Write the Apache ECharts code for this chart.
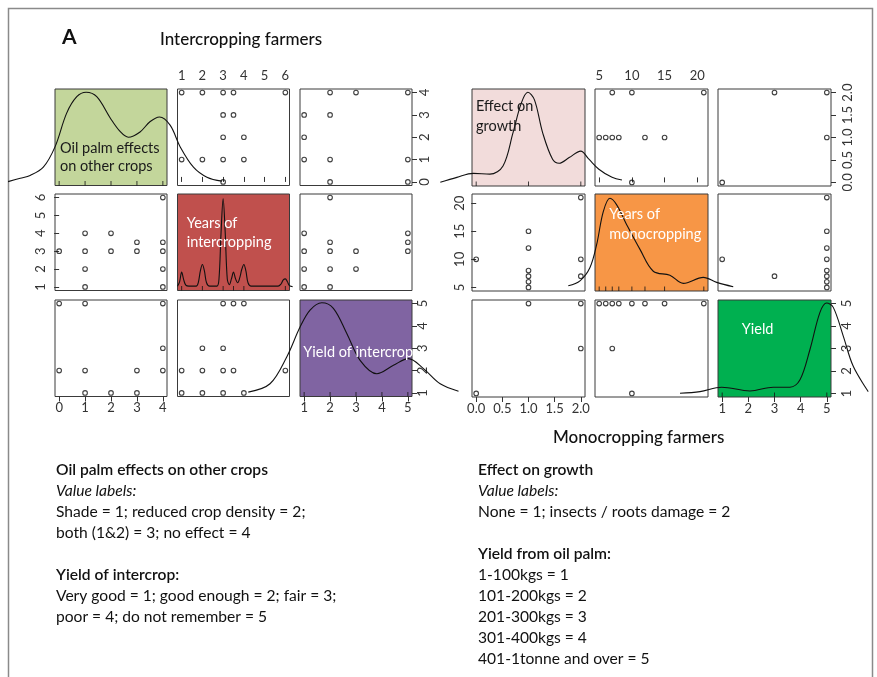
<!DOCTYPE html>
<html><head><meta charset="utf-8">
<script src="https://cdn.jsdelivr.net/npm/echarts@6/dist/echarts.min.js"></script>
<style>html,body{margin:0;padding:0;background:#fff}#c{width:877px;height:677px}</style>
</head><body><div id="c"></div>
<script>
// ================= DATA =================
// Intercropping farmers: variables and ranges
const leftNames = ['Oil palm effects\non other crops', 'Years of\nintercropping', 'Yield of intercrop'];
const effectRange = [0, 4];
const yearsInterRange = [1, 6];
const yieldInterRange = [1, 5];
const effectTicks = [0, 1, 2, 3, 4];
const yearsInterTicks = [1, 2, 3, 4, 5, 6];
const yieldInterTicks = [1, 2, 3, 4, 5];

// pairs [x, y] for upper panels (lower panels are the transposes)
const L_years_effect = [[1,4],[2,4],[3,4],[3.5,4],[6,4],[3,3],[3.5,3],[3,2],[4,2],[1,1],[2,1],[3,1],[4,1],[3,0]];
const L_yield_effect = [[2,4],[3,4],[5,4],[1,3],[2,3],[1,2],[1,1],[2,1],[5,1],[2,0],[5,0]];
const L_yield_years = [[2,6],[1,4],[5,4],[2,3.5],[5,3.5],[1,3],[2,3],[3,3],[5,3],[1,2],[2,2],[3,2],[1,1],[2,1]];

// rug values
const rugEffect = [0, 1, 2, 3, 4];
const rugYearsInter = [1, 2, 3, 3.5, 4, 6];
const rugYieldInter = [1, 2, 3, 4, 5];

// density curves: [value, relative density height]
const densEffect = [[-1.97,0.04],[-1.5,0.075],[-1.12,0.104],[-0.61,0.19],[-0.16,0.40],[0.29,0.75],[0.68,0.92],[1.04,0.966],[1.45,0.92],[1.97,0.70],[2.35,0.56],[2.67,0.50],[3.12,0.555],[3.5,0.66],[3.87,0.71],[4.28,0.625],[4.67,0.40],[5.18,0.19],[5.70,0.086],[6.28,0.045]];
const densYearsInter = [[0.8,0.045],[0.9,0.09],[1.0,0.19],[1.1,0.11],[1.2,0.055],[1.35,0.045],[1.7,0.045],[1.8,0.08],[1.9,0.2],[2.0,0.27],[2.1,0.2],[2.2,0.08],[2.35,0.045],[2.7,0.045],[2.8,0.12],[2.9,0.6],[3.0,0.95],[3.1,0.6],[3.2,0.12],[3.3,0.06],[3.4,0.12],[3.5,0.19],[3.6,0.12],[3.7,0.08],[3.8,0.13],[3.9,0.22],[4.0,0.27],[4.1,0.2],[4.2,0.08],[4.35,0.045],[5.65,0.045],[5.8,0.07],[5.9,0.11],[6.0,0.12],[6.1,0.09],[6.2,0.05],[6.35,0.04]];
const densYieldInter = [[-1.155,0.045],[-0.317,0.132],[0.328,0.41],[0.842,0.72],[1.228,0.896],[1.68,0.972],[2.127,0.914],[2.645,0.653],[3.158,0.375],[3.803,0.236],[4.444,0.323],[5.023,0.393],[5.602,0.289],[6.247,0.132],[6.954,0.055]];

// Monocropping farmers
const rightNames = ['Effect on\ngrowth', 'Years of\nmonocropping', 'Yield'];
const growthRange = [0, 2];
const yearsMonoRange = [5, 21];
const yieldRange = [1, 5];
const growthTicks = [0, 0.5, 1, 1.5, 2];
const yearsMonoTicks = [5, 10, 15, 20];
const yieldTicks = [1, 2, 3, 4, 5];

const R_years_growth = [[7,2],[10,2],[21,2],[5,1],[6,1],[7,1],[8,1],[12,1],[15,1],[10,0]];
const R_yield_growth = [[3,2],[5,2],[5,1],[1,0]];
const R_yield_years = [[1,10],[3,7],[5,21],[5,15],[5,12],[5,10],[5,8],[5,7],[5,6],[5,5]];

const rugGrowth = [0, 1, 2];
const rugYearsMono = [5, 6, 7, 8, 10, 12, 15, 21];
const rugYield = [1, 3, 5];

const densGrowth = [[-0.686,0.038],[-0.369,0.089],[-0.055,0.13],[0.261,0.122],[0.513,0.207],[0.703,0.548],[0.862,0.854],[0.987,0.966],[1.114,0.888],[1.271,0.548],[1.46,0.276],[1.587,0.235],[1.777,0.293],[1.998,0.36],[2.155,0.276],[2.345,0.173],[2.597,0.089],[2.786,0.061]];
const densYearsMono = [[0.275,0.054],[2.064,0.105],[3.593,0.242],[4.618,0.48],[5.627,0.819],[6.651,0.956],[7.676,0.888],[9.205,0.684],[11.239,0.429],[13.272,0.204],[15.81,0.163],[17.86,0.079],[20.92,0.14],[22.97,0.089],[25.5,0.044]];
const densYield = [[-0.613,0.039],[0.151,0.055],[0.981,0.101],[2.063,0.0625],[2.953,0.101],[3.592,0.101],[3.974,0.177],[4.356,0.49],[4.738,0.872],[4.995,0.969],[5.247,0.924],[5.629,0.628],[6.011,0.316],[6.585,0.055]];

// Text blocks
const leftNotes = [
  ['Oil palm effects on other crops', 'b'], ['Value labels:', 'i'],
  ['Shade = 1; reduced crop density = 2;', ''], ['both (1&2) = 3; no effect = 4', ''], ['', ''],
  ['Yield of intercrop:', 'b'], ['Very good = 1; good enough = 2; fair = 3;', ''], ['poor = 4; do not remember = 5', '']
];
const rightNotes = [
  ['Effect on growth', 'b'], ['Value labels:', 'i'], ['None = 1; insects / roots damage = 2', ''], ['', ''],
  ['Yield from oil palm:', 'b'], ['1-100kgs = 1', ''], ['101-200kgs = 2', ''], ['201-300kgs = 3', ''],
  ['301-400kgs = 4', ''], ['401-1tonne and over = 5', '']
];

// ================= BUILD =================
const FONT = 'Lato';
const W = 877;
const option = {animation:false, backgroundColor:'#fff', grid:[], xAxis:[], yAxis:[], series:[], graphic:[]};
const hidden = {axisLine:{show:false}, axisTick:{show:false}, axisLabel:{show:false}, splitLine:{show:false}};
function padded(r){ const d=(r[1]-r[0])*0.04; return [r[0]-d, r[1]+d]; }
function mkAxis(gi, range, lab) {
  const a = Object.assign({type:'value', gridIndex:gi, min:range[0], max:range[1], scale:true}, JSON.parse(JSON.stringify(hidden)));
  if (lab) {
    a.position = lab.position;
    a.axisTick = {show:true, customValues:lab.ticks, length:5, lineStyle:{color:'#333', width:1}};
    a.axisLabel = {show:true, customValues:lab.ticks, margin:lab.margin, rotate:lab.rotate||0,
      color:'#333', fontSize:13, fontFamily:FONT, formatter: lab.fmt || (v=>String(v))};
  }
  return a;
}
const transpose = d => d.map(p => [p[1], p[0]]);

function buildMatrix(M) {
  for (let i=0;i<3;i++) for (let j=0;j<3;j++) {
    const gi = option.grid.length;
    option.grid.push({left:M.cols[j], top:M.tops[i], width:M.w, height:M.h, show:true,
      backgroundColor: i===j ? M.bg[i] : 'rgba(0,0,0,0)', borderColor:'#3a3a3a', borderWidth:1});
    let xlab = null, ylab = null;
    if (i===0 && j===1) xlab = {position:'top', ticks:M.ticks[1], margin:7, fmt:M.fmt[1]};
    if (i===2 && (j===0 || j===2)) xlab = {position:'bottom', ticks:M.ticks[j], margin:5, fmt:M.fmt[j]};
    if (i===1 && j===0) ylab = {position:'left', ticks:M.ticks[1], margin:M.lm, rotate:90, fmt:M.fmt[1]};
    if ((i===0 || i===2) && j===2) ylab = {position:'right', ticks:M.ticks[i], margin:M.rm[i], rotate:90, fmt:M.fmt[i]};
    const xr = padded(M.ranges[j]);
    const xi = option.xAxis.length;
    option.xAxis.push(mkAxis(gi, xr, xlab));
    const yi = option.yAxis.length;
    if (i===j) {
      option.yAxis.push(mkAxis(gi, [0,1], null));
      if (ylab) option.yAxis.push(mkAxis(gi, padded(M.ranges[i]), ylab));
      // rug marks
      option.series.push({type:'scatter', xAxisIndex:xi, yAxisIndex:yi, data:M.rug[i].map(v=>[v,0]),
        symbol:'rect', symbolSize:[1,4.5], symbolOffset:[0,-2.2], silent:true, z:4,
        itemStyle:{color:'#111'}});
      // density curve on a wide invisible grid sharing the same x scale (not clipped to panel)
      const cg = option.grid.length;
      option.grid.push({left:0, top:M.tops[i], width:W, height:M.h, show:false});
      const span = xr[1]-xr[0];
      const cmin = xr[0] + (0 - M.cols[j]) / M.w * span;
      const cmax = xr[0] + (W - M.cols[j]) / M.w * span;
      const cxi = option.xAxis.length;
      option.xAxis.push(mkAxis(cg, [cmin, cmax], null));
      const cyi = option.yAxis.length;
      option.yAxis.push(mkAxis(cg, [0,1], null));
      option.series.push({type:'line', xAxisIndex:cxi, yAxisIndex:cyi, data:M.dens[i], smooth:0.35,
        symbol:'none', clip:false, silent:true, z:5, lineStyle:{color:'#111', width:1.1}});
    } else {
      option.yAxis.push(mkAxis(gi, padded(M.ranges[i]), ylab));
      const data = i<j ? M.pairs[i+''+j] : transpose(M.pairs[j+''+i]);
      option.series.push({type:'scatter', xAxisIndex:xi, yAxisIndex:yi, data, symbol:'circle', symbolSize:4.6,
        silent:true, z:3, itemStyle:{color:'rgba(0,0,0,0)', borderColor:'#111', borderWidth:1.1}});
    }
  }
  M.names.forEach((n, k) => {
    option.graphic.push({type:'text', x:M.txt[k][0], y:M.txt[k][1], z:50, silent:true,
      style:{text:n, fill:M.tc[k], font:'14.5px '+FONT, verticalAlign:'middle', lineHeight:M.txt[k][2]||19}});
  });
}

buildMatrix({
  cols:[55,177.5,300], tops:[89,194,300], w:112, h:96.5,
  ranges:[effectRange, yearsInterRange, yieldInterRange],
  ticks:[effectTicks, yearsInterTicks, yieldInterTicks],
  fmt:[null,null,null], lm:8, rm:{0:6, 2:4},
  pairs:{'01':L_years_effect, '02':L_yield_effect, '12':L_yield_years},
  dens:[densEffect, densYearsInter, densYieldInter],
  rug:[rugEffect, rugYearsInter, rugYieldInter],
  bg:['#c3d69b', '#c0504d', '#8064a2'],
  tc:['#1a1a1a', '#ffffff', '#ffffff'],
  names:leftNames,
  txt:[[60,157.5,18.5],[186.7,233,19.4],[303.3,352.7]]
});
buildMatrix({
  cols:[472,595,718], tops:[89,194,300], w:113, h:97,
  ranges:[growthRange, yearsMonoRange, yieldRange],
  ticks:[growthTicks, yearsMonoTicks, yieldTicks],
  fmt:[v=>Number(v).toFixed(1), null, null], lm:6, rm:{0:10, 2:9},
  pairs:{'01':R_years_growth, '02':R_yield_growth, '12':R_yield_years},
  dens:[densGrowth, densYearsMono, densYield],
  rug:[rugGrowth, rugYearsMono, rugYield],
  bg:['#f2dcdb', '#f79646', '#00b050'],
  tc:['#1a1a1a', '#ffffff', '#ffffff'],
  names:rightNames,
  txt:[[476,116.7,20],[609.3,224,19.7],[741.7,329]]
});

// frame & titles
option.graphic.push({type:'rect', shape:{x:8.5,y:8.5,width:864,height:700}, silent:true, z:0,
  style:{fill:'none', stroke:'#8a8a8a', lineWidth:1.5}});
option.graphic.push({type:'text', x:62, y:37, silent:true, style:{text:'A', fill:'#111', font:'bold 21px '+FONT, verticalAlign:'middle'}});
option.graphic.push({type:'text', x:160, y:40, silent:true, style:{text:'Intercropping farmers', fill:'#111', font:'500 17px '+FONT, verticalAlign:'middle'}});
option.graphic.push({type:'text', x:553, y:438, silent:true, style:{text:'Monocropping farmers', fill:'#111', font:'500 17px '+FONT, verticalAlign:'middle'}});

function notes(list, x, y0) {
  list.forEach((l, k) => {
    if (!l[0]) return;
    const f = l[1]==='b' ? '600 15.6px ' : (l[1]==='i' ? 'italic 15.6px ' : '15.6px ');
    option.graphic.push({type:'text', x, y:y0 + k*21, silent:true,
      style:{text:l[0], fill:'#111', font:f+FONT, verticalAlign:'middle'}});
  });
}
notes(leftNotes, 56, 470);
notes(rightNotes, 478, 470);

const chart = echarts.init(document.getElementById('c'), null, {renderer:'canvas'});
chart.setOption(option);
</script></body></html>
